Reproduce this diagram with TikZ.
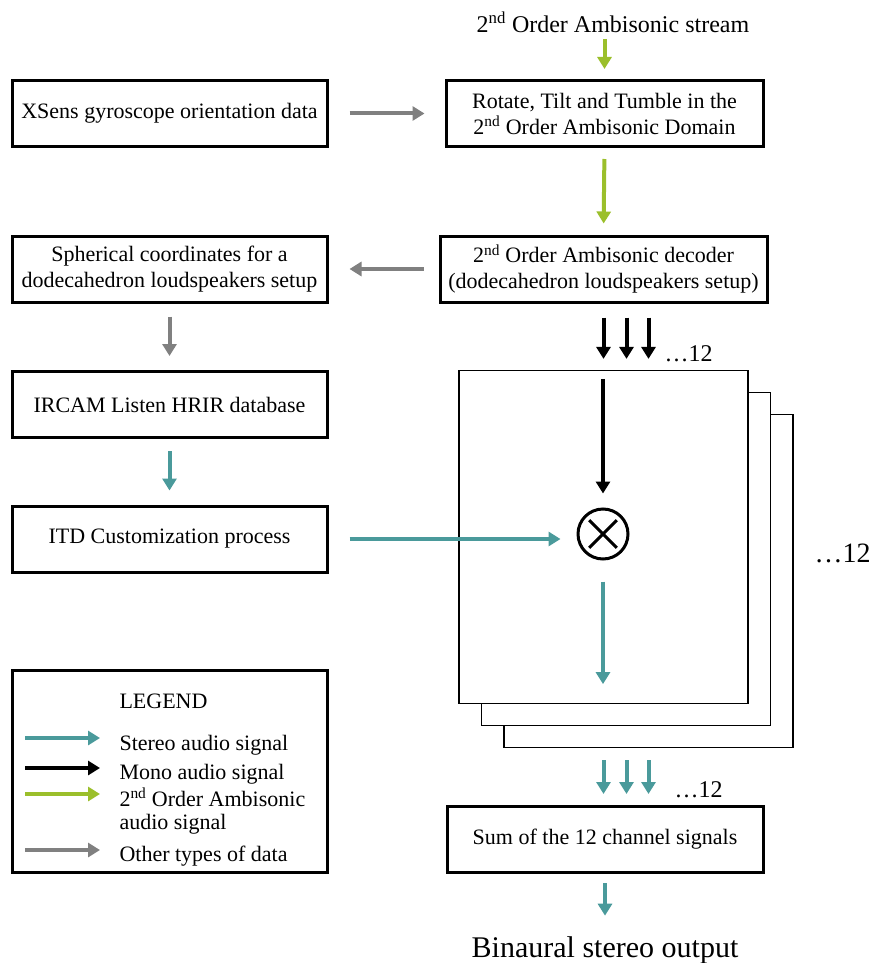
\documentclass[tikz,border=0pt]{standalone}
\usepackage{fontspec}
\setmainfont{Liberation Serif}
\usepackage{tikz}
\usetikzlibrary{arrows.meta}
\definecolor{stereoteal}{HTML}{4A9A9B}
\definecolor{ambigreen}{HTML}{9BBF2B}
\definecolor{datagrey}{HTML}{808080}
\tikzstyle{block} = [rectangle, draw=black, line width=3pt, minimum width=315pt, minimum height=66pt, text centered, align=center, fill=white, inner sep=2pt]
\tikzstyle{panel} = [rectangle, draw=black, line width=1.2pt, minimum width=289pt, minimum height=333pt, fill=white]
\tikzstyle{plain} = [inner sep=3.33pt]
\tikzstyle{stereo} = [line width=4pt, -{Triangle[width=14pt,length=12pt]}, draw=stereoteal]
\tikzstyle{mono} = [line width=4pt, -{Triangle[width=14pt,length=12pt]}, draw=black]
\tikzstyle{ambi} = [line width=4pt, -{Triangle[width=14pt,length=12pt]}, draw=ambigreen]
\tikzstyle{data} = [line width=4pt, -{Triangle[width=14pt,length=12pt]}, draw=datagrey]

\begin{document}
\begin{tikzpicture}[x=1pt, y=-1pt, font=\fontsize{22}{26}\selectfont]
		\useasboundingbox (0,0) rectangle (873,963);
		% left column
		\node (xsens) [block] at (169.5,113.5) {XSens gyroscope orientation data};
		\node (spher) [block] at (169.5,269) {Spherical coordinates for a\\dodecahedron loudspeakers setup};
		\node (ircam) [block] at (169.5,404.5) {IRCAM Listen HRIR database};
		\node (itd) [block] at (169.5,539) {ITD Customization process};
		
		% right column
		\node (stream) [plain, font=\fontsize{24}{28}\selectfont] at (613,22) {2\textsuperscript{nd} Order Ambisonic stream};
		\node (rotate) [block, minimum width=317pt] at (604.5,113.5) {Rotate, Tilt and Tumble in the\\2\textsuperscript{nd} Order Ambisonic Domain};
		\node (decoder) [block, minimum width=327pt] at (603.5,269) {2\textsuperscript{nd} Order Ambisonic decoder\\(dodecahedron loudspeakers setup)};
		\node (back) [panel] at (648.5,581) {};
		\node (middle) [panel] at (626,559) {};
		\node (front) [panel] at (603.5,537) {};
		\node (mult) [circle, draw=black, line width=3pt, minimum size=50pt] at (603,534) {};
		\node (sum) [block, minimum width=316pt] at (605,839.5) {Sum of the 12 channel signals};
		\node (output) [plain, anchor=base, font=\fontsize{30}{34}\selectfont] at (605,957) {Binaural stereo output};
		\node (dotsdec) [plain, anchor=base west, font=\fontsize{24}{28}\selectfont] at (661,361) {\ldots12};
		\node (dotsstack) [plain, anchor=base west, font=\fontsize{28}{32}\selectfont] at (811,562) {\ldots12};
		\node (dotssum) [plain, anchor=base west, font=\fontsize{24}{28}\selectfont] at (671,797) {\ldots12};
		
		% legend
		\node (legend) [block, minimum height=202pt] at (169.5,771) {};
		\node (legtitle) [plain, anchor=base west] at (116,708) {LEGEND};
		\node (lstereo) [plain, anchor=base west] at (116,750) {Stereo audio signal};
		\node (lmono) [plain, anchor=base west] at (116,779) {Mono audio signal};
		\node (lambi) [plain, anchor=base west, align=left] at (116,829) {2\textsuperscript{nd} Order Ambisonic\\[-3pt]audio signal};
		\node (ldata) [plain, anchor=base west] at (116,861) {Other types of data};
		\draw [stereo] ([xshift=-91pt,yshift=12pt]lstereo.base west) -- ([xshift=-16pt,yshift=12pt]lstereo.base west);
		\draw [mono] ([xshift=-91pt,yshift=11pt]lmono.base west) -- ([xshift=-16pt,yshift=11pt]lmono.base west);
		\draw [ambi] ([xshift=-91pt,yshift=35pt]lambi.base west) -- ([xshift=-16pt,yshift=35pt]lambi.base west);
		\draw [data] ([xshift=-91pt,yshift=11pt]ldata.base west) -- ([xshift=-16pt,yshift=11pt]ldata.base west);
		
		% connectors
		\draw [line width=3pt, shorten <=7pt, shorten >=7pt] (mult.north west) -- (mult.south east);
		\draw [line width=3pt, shorten <=7pt, shorten >=7pt] (mult.north east) -- (mult.south west);
		\draw [ambi, shorten <=3pt, shorten >=10pt] (stream.south -| rotate.center) -- (rotate.north);
		\draw [ambi, shorten <=11pt, shorten >=11pt] (rotate.south) -- (decoder.north);
		\draw [data, shorten <=21pt, shorten >=20pt] (xsens.east) -- (rotate.west);
		\draw [data, shorten <=15pt, shorten >=21pt] (decoder.west) -- (spher.east);
		\draw [data, shorten <=13pt, shorten >=14pt] (spher.south) -- (ircam.north);
		\draw [stereo, shorten <=12pt, shorten >=14pt] (ircam.south) -- (itd.north);
		\foreach \dx in {0,23,45}
			\draw [mono, shorten <=14pt, shorten >=11pt] ([xshift=\dx pt]decoder.south) -- ([xshift=\dx pt]decoder.south |- front.north);
		\draw [mono, shorten <=9pt, shorten >=14pt] (mult.north |- front.north) -- (mult.north);
		\draw [stereo, shorten <=21pt, shorten >=16pt] (itd.east) -- (itd.east -| mult.west);
		\draw [stereo, shorten <=21pt, shorten >=20pt] (mult.south) -- (mult.south |- front.south);
		\foreach \dx in {0,23,45}
			\draw [stereo, shorten <=12pt, shorten >=11pt] ([xshift=\dx pt]front.south |- back.south) -- ([xshift=\dx pt]front.south |- sum.north);
		\draw [stereo, shorten <=9pt, shorten >=17pt] (sum.south) -- (output.north);
\end{tikzpicture}
\end{document}
